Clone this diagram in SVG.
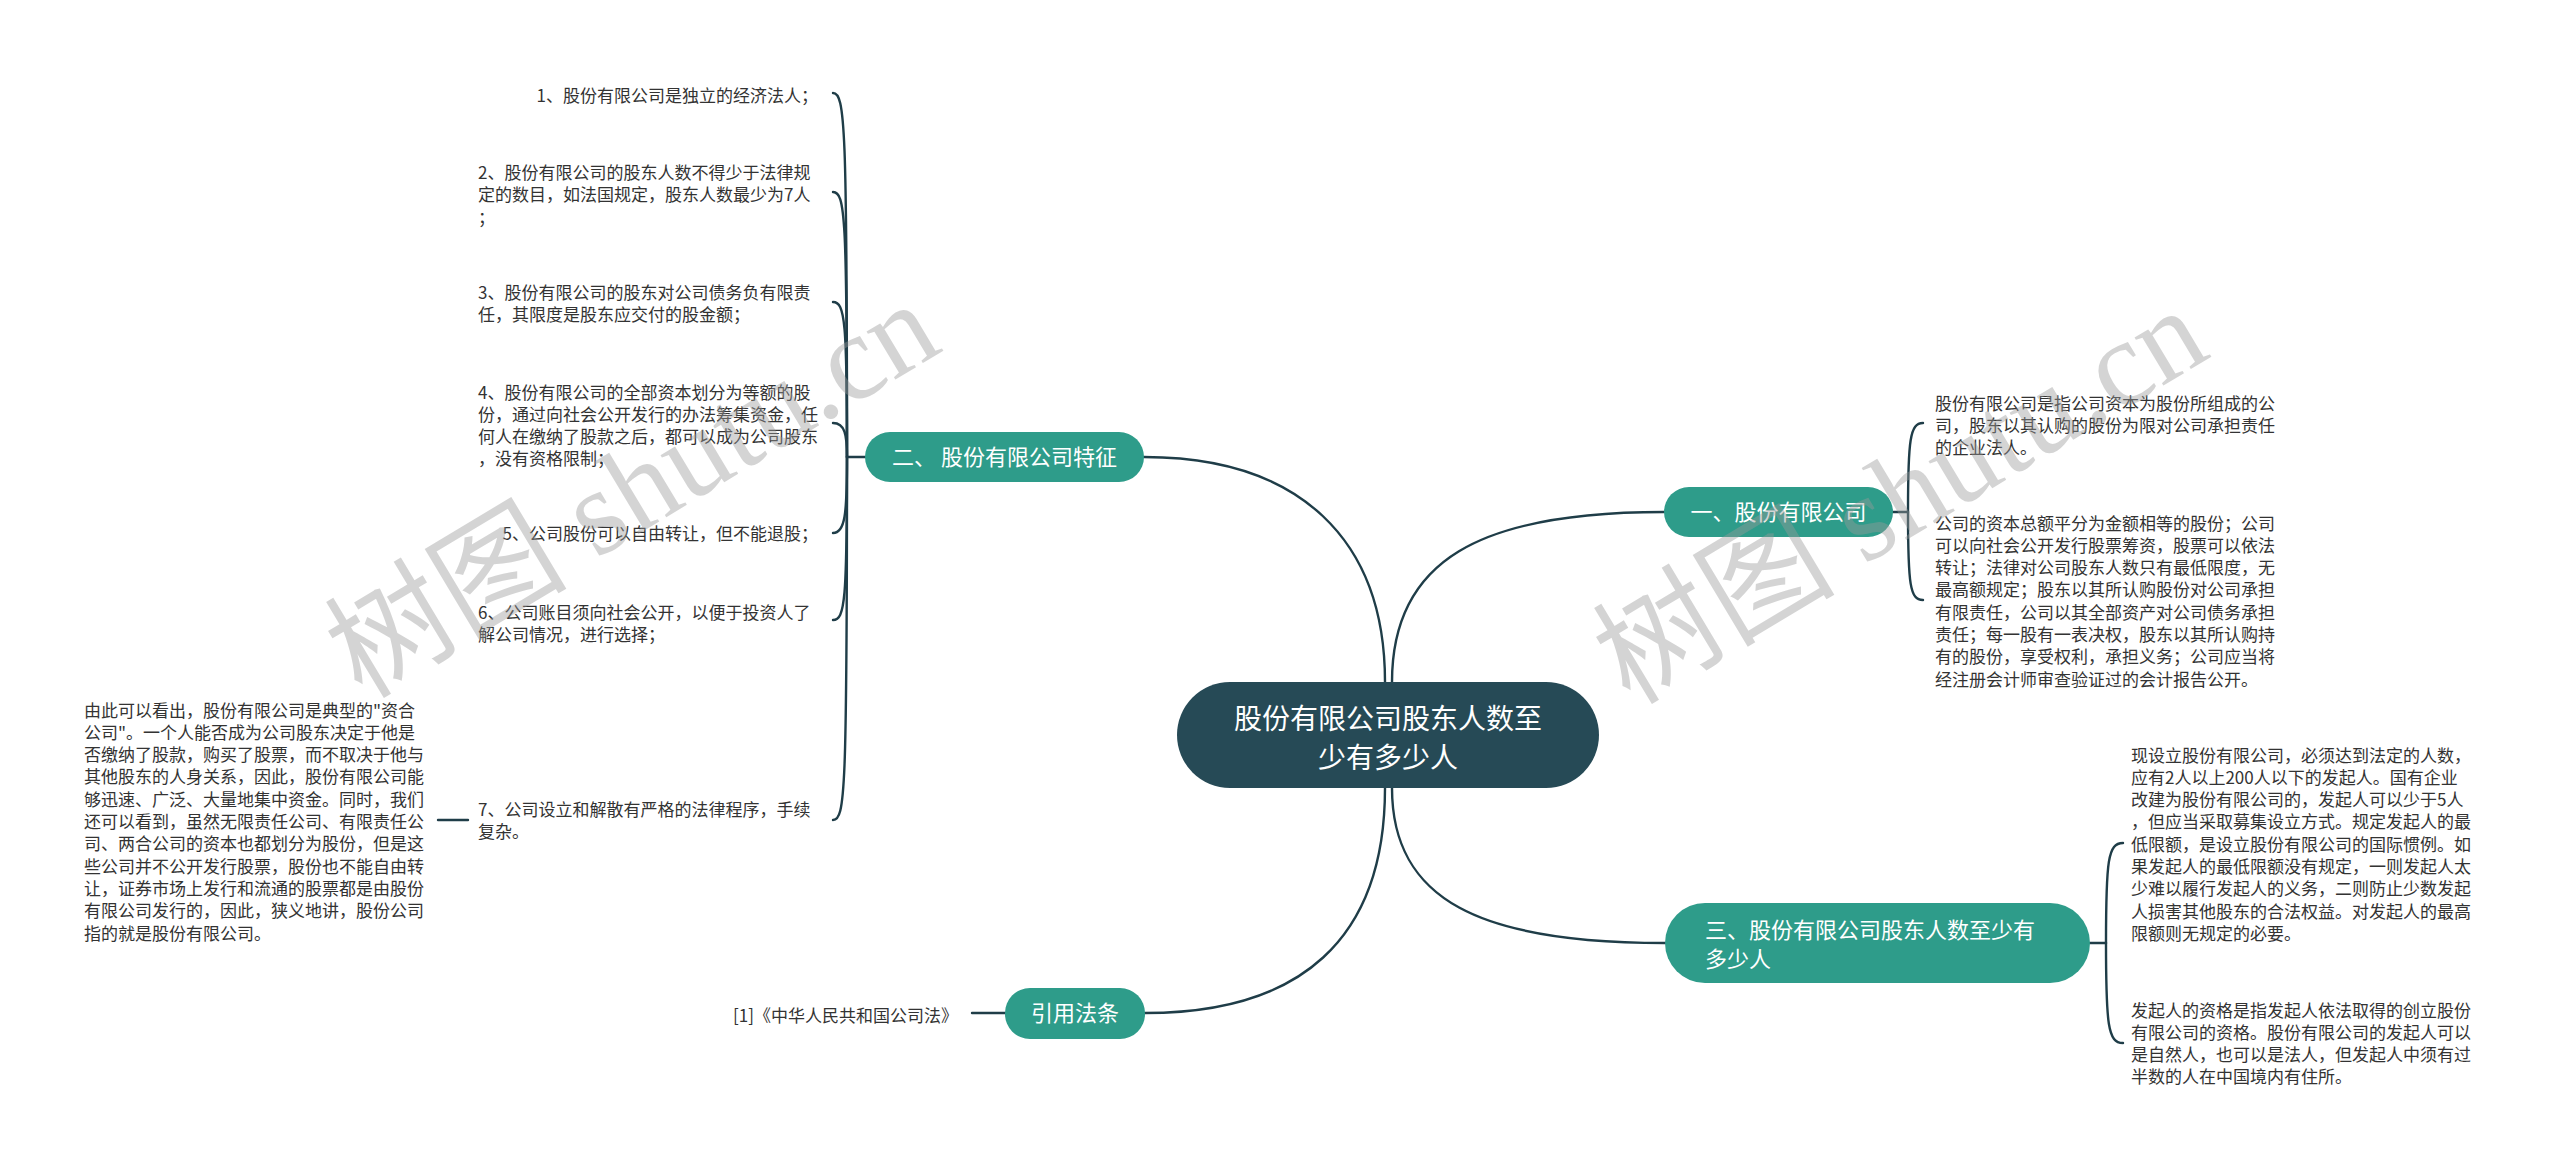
<svg xmlns="http://www.w3.org/2000/svg" width="2560" height="1170" viewBox="0 0 2560 1170">
<style>
text{font-family:"Noto Sans CJK SC","Noto Sans",sans-serif}
.leaf{font-size:17px;fill:#333333}
.topic{font-size:22px;fill:#ffffff}
.rootT{font-size:28px;fill:#ffffff}
.tnode{fill:#2e9c8a}
.conn path,.conn line{fill:none;stroke:#1f3d48;stroke-width:2.4;stroke-linecap:round}
.wm{font-family:"Liberation Serif","Noto Sans CJK SC",serif;font-size:122px;fill:#9a9a9a;opacity:0.42}
</style>
<rect width="2560" height="1170" fill="#ffffff"/>
<g class="conn">
<path d="M1385,682 C1385,540 1300,457 1144,457"/>
<path d="M1392,682 C1392,560 1480,512 1664,512"/>
<path d="M1385,788 C1385,940 1300,1013 1145,1013"/>
<path d="M1392,788 C1392,900 1480,943 1665,943"/>
<line x1="865" y1="457" x2="847" y2="457"/>
<path d="M847,457 C847,125 845,93 833,93"/>
<path d="M847,457 C847,215 845,192 833,192"/>
<path d="M847,457 C847,322 845,302 833,302"/>
<path d="M847,457 C847,435 845,423 833,423"/>
<path d="M847,457 C847,515 845,533 833,533"/>
<path d="M847,457 C847,600 845,620 833,620"/>
<path d="M847,457 C847,795 845,820 833,820"/>
<line x1="438" y1="820" x2="468" y2="820"/>
<line x1="972" y1="1013" x2="1005" y2="1013"/>
<line x1="1893" y1="512" x2="1908" y2="512"/>
<path d="M1908,512 C1908,440 1910,423 1923,423"/>
<path d="M1908,512 C1908,585 1910,600 1923,600"/>
<line x1="2090" y1="943" x2="2106" y2="943"/>
<path d="M2106,943 C2106,860 2108,843 2123,843"/>
<path d="M2106,943 C2106,1025 2108,1043 2123,1043"/>
</g>
<g id="root">
<rect x="1177" y="682" width="422" height="106" rx="53" fill="#264a56"/>
<text class="rootT" x="1388" y="728.6" text-anchor="middle">股份有限公司股东人数至</text>
<text class="rootT" x="1388" y="767.6" text-anchor="middle">少有多少人</text>
</g>
<g id="n1">
<rect class="tnode" x="1664" y="487" width="229" height="50" rx="25"/>
<text class="topic" x="1778.5" y="520" text-anchor="middle">一、股份有限公司</text>
</g>
<g id="n1a">
<text class="leaf" x="1935" y="409.5"><tspan x="1935">股份有限公司是指公司资本为股份所组成的公</tspan><tspan x="1935" dy="22.3">司，股东以其认购的股份为限对公司承担责任</tspan><tspan x="1935" dy="22.3">的企业法人。</tspan></text>
</g>
<g id="n1b">
<text class="leaf" x="1935" y="529.5"><tspan x="1935">公司的资本总额平分为金额相等的股份；公司</tspan><tspan x="1935" dy="22.3">可以向社会公开发行股票筹资，股票可以依法</tspan><tspan x="1935" dy="22.3">转让；法律对公司股东人数只有最低限度，无</tspan><tspan x="1935" dy="22.3">最高额规定；股东以其所认购股份对公司承担</tspan><tspan x="1935" dy="22.3">有限责任，公司以其全部资产对公司债务承担</tspan><tspan x="1935" dy="22.3">责任；每一股有一表决权，股东以其所认购持</tspan><tspan x="1935" dy="22.3">有的股份，享受权利，承担义务；公司应当将</tspan><tspan x="1935" dy="22.3">经注册会计师审查验证过的会计报告公开。</tspan></text>
</g>
<g id="n2">
<rect class="tnode" x="865" y="432" width="279" height="50" rx="25"/>
<text class="topic" x="1004.5" y="465.4" text-anchor="middle">二、 股份有限公司特征</text>
</g>
<g id="n2a">
<text class="leaf" x="818" y="101.5" text-anchor="end">1、股份有限公司是独立的经济法人；</text>
</g>
<g id="n2b">
<text class="leaf" x="478" y="179"><tspan x="478">2、股份有限公司的股东人数不得少于法律规</tspan><tspan x="478" dy="22.3">定的数目，如法国规定，股东人数最少为7人</tspan><tspan x="478" dy="22.3">；</tspan></text>
</g>
<g id="n2c">
<text class="leaf" x="478" y="298.5"><tspan x="478">3、股份有限公司的股东对公司债务负有限责</tspan><tspan x="478" dy="22.3">任，其限度是股东应交付的股金额；</tspan></text>
</g>
<g id="n2d">
<text class="leaf" x="478" y="398.5"><tspan x="478">4、股份有限公司的全部资本划分为等额的股</tspan><tspan x="478" dy="22.3">份，通过向社会公开发行的办法筹集资金，任</tspan><tspan x="478" dy="22.3">何人在缴纳了股款之后，都可以成为公司股东</tspan><tspan x="478" dy="22.3">，没有资格限制；</tspan></text>
</g>
<g id="n2e">
<text class="leaf" x="818" y="539.5" text-anchor="end">5、公司股份可以自由转让，但不能退股；</text>
</g>
<g id="n2f">
<text class="leaf" x="478" y="618.5"><tspan x="478">6、公司账目须向社会公开，以便于投资人了</tspan><tspan x="478" dy="22.3">解公司情况，进行选择；</tspan></text>
</g>
<g id="n2g">
<text class="leaf" x="478" y="815.5"><tspan x="478">7、公司设立和解散有严格的法律程序，手续</tspan><tspan x="478" dy="22.3">复杂。</tspan></text>
</g>
<g id="n2g1">
<text class="leaf" x="84" y="716.5"><tspan x="84">由此可以看出，股份有限公司是典型的"资合</tspan><tspan x="84" dy="22.3">公司"。一个人能否成为公司股东决定于他是</tspan><tspan x="84" dy="22.3">否缴纳了股款，购买了股票，而不取决于他与</tspan><tspan x="84" dy="22.3">其他股东的人身关系，因此，股份有限公司能</tspan><tspan x="84" dy="22.3">够迅速、广泛、大量地集中资金。同时，我们</tspan><tspan x="84" dy="22.3">还可以看到，虽然无限责任公司、有限责任公</tspan><tspan x="84" dy="22.3">司、两合公司的资本也都划分为股份，但是这</tspan><tspan x="84" dy="22.3">些公司并不公开发行股票，股份也不能自由转</tspan><tspan x="84" dy="22.3">让，证券市场上发行和流通的股票都是由股份</tspan><tspan x="84" dy="22.3">有限公司发行的，因此，狭义地讲，股份公司</tspan><tspan x="84" dy="22.3">指的就是股份有限公司。</tspan></text>
</g>
<g id="n3">
<rect class="tnode" x="1665" y="903" width="425" height="80" rx="40"/>
<text class="topic" x="1705" y="938"><tspan x="1705">三、股份有限公司股东人数至少有</tspan><tspan x="1705" dy="29">多少人</tspan></text>
</g>
<g id="n3a">
<text class="leaf" x="2131" y="761.5"><tspan x="2131">现设立股份有限公司，必须达到法定的人数，</tspan><tspan x="2131" dy="22.3">应有2人以上200人以下的发起人。国有企业</tspan><tspan x="2131" dy="22.3">改建为股份有限公司的，发起人可以少于5人</tspan><tspan x="2131" dy="22.3">，但应当采取募集设立方式。规定发起人的最</tspan><tspan x="2131" dy="22.3">低限额，是设立股份有限公司的国际惯例。如</tspan><tspan x="2131" dy="22.3">果发起人的最低限额没有规定，一则发起人太</tspan><tspan x="2131" dy="22.3">少难以履行发起人的义务，二则防止少数发起</tspan><tspan x="2131" dy="22.3">人损害其他股东的合法权益。对发起人的最高</tspan><tspan x="2131" dy="22.3">限额则无规定的必要。</tspan></text>
</g>
<g id="n3b">
<text class="leaf" x="2131" y="1016.5"><tspan x="2131">发起人的资格是指发起人依法取得的创立股份</tspan><tspan x="2131" dy="22.3">有限公司的资格。股份有限公司的发起人可以</tspan><tspan x="2131" dy="22.3">是自然人，也可以是法人，但发起人中须有过</tspan><tspan x="2131" dy="22.3">半数的人在中国境内有住所。</tspan></text>
</g>
<g id="n4">
<rect class="tnode" x="1005" y="988" width="140" height="51" rx="25"/>
<text class="topic" x="1075" y="1021" text-anchor="middle">引用法条</text>
</g>
<g id="n4a">
<text class="leaf" x="958" y="1021.5" text-anchor="end">[1]《中华人民共和国公司法》</text>
</g>
<g id="watermark">
<text class="wm" transform="translate(362,700) rotate(-31)" textLength="680" lengthAdjust="spacingAndGlyphs">树图 shutu.cn</text>
<text class="wm" transform="translate(1630,706) rotate(-31)" textLength="680" lengthAdjust="spacingAndGlyphs">树图 shutu.cn</text>
</g>
</svg>
